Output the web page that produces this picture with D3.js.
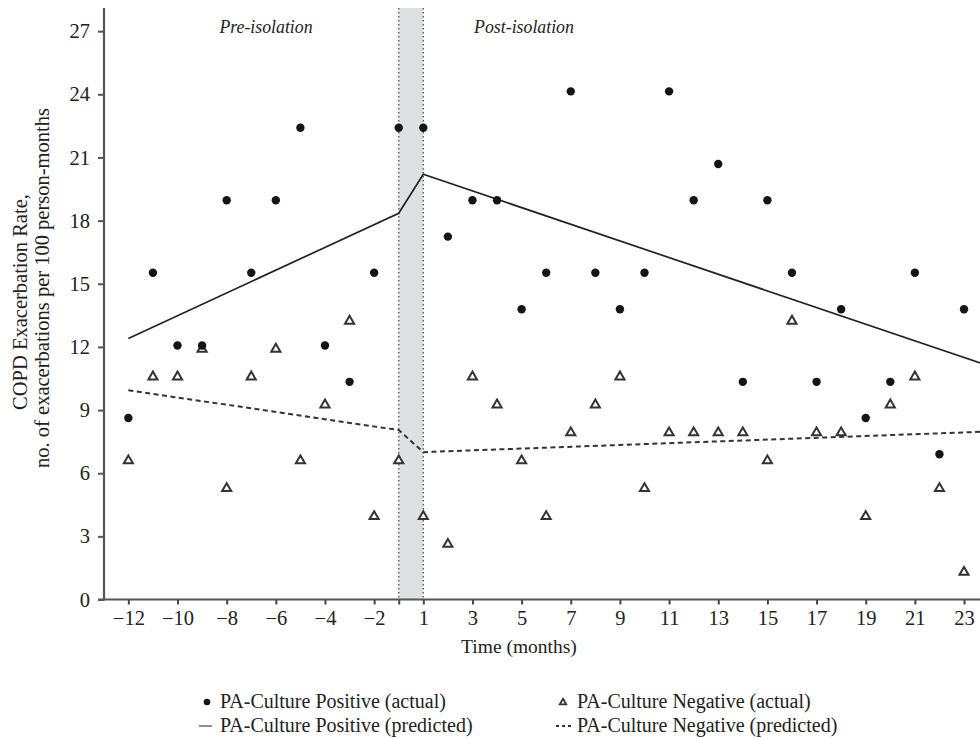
<!DOCTYPE html>
<html><head><meta charset="utf-8">
<script src="https://cdn.jsdelivr.net/npm/d3@7"></script>
<style>
html,body{margin:0;padding:0;background:#fff;}
svg{display:block;}
</style></head>
<body>
<svg id="chart" width="980" height="739"></svg>
<script>
// ---- data ----
const months = [-12,-11,-10,-9,-8,-7,-6,-5,-4,-3,-2,-1,1,2,3,4,5,6,7,8,9,10,11,12,13,14,15,16,17,18,19,20,21,22,23];
const positiveActual = [8.62,15.52,12.07,12.07,18.97,15.52,18.97,22.41,12.07,10.34,15.52,22.41,
  22.41,17.24,18.97,18.97,13.79,15.52,24.14,15.52,13.79,15.52,24.14,18.97,20.69,10.34,18.97,15.52,10.34,13.79,8.62,10.34,15.52,6.90,13.79];
const negativeActual = [6.62,10.60,10.60,11.92,5.30,10.60,11.92,6.62,9.27,13.25,3.97,6.62,
  3.97,2.65,10.60,9.27,6.62,3.97,7.95,9.27,10.60,5.30,7.95,7.95,7.95,7.95,6.62,13.25,7.95,7.95,3.97,9.27,10.60,5.30,1.32];
const predMonths = [-12,-1,1,24];
const positivePredicted = [12.4,18.35,20.2,11.1];
const negativePredicted = [9.94,8.05,7.0,7.98];
const xTickMonths = [-12,-10,-8,-6,-4,-2,-1,1,3,5,7,9,11,13,15,17,19,21,23];
const xTickLabels = ["\u221212","\u221210","\u22128","\u22126","\u22124","\u22122","","1","3","5","7","9","11","13","15","17","19","21","23"];
const yTicks = [0,3,6,9,12,15,18,21,24,27];
const periodLabels = ["Pre-isolation","Post-isolation"];
const legendLabels = ["PA-Culture Positive (actual)","PA-Culture Negative (actual)","PA-Culture Positive (predicted)","PA-Culture Negative (predicted)"];

const FONT = '"Liberation Serif", "DejaVu Serif", serif';
const TXT = "#222";

// month -> position index (month 0 does not exist)
const idx = m => m < 0 ? m + 12 : m + 11;

const svg = d3.select("#chart");
const x = d3.scaleLinear().domain([-1.235, 34.65]).range([98, 980]);
const y = d3.scaleLinear().domain([0, 28.1]).range([599.5, 8]);

function txt(sel, size) {
  return sel.style("font-family", FONT).style("font-size", size + "px").style("fill", TXT);
}

// shaded isolation band
const bx0 = x(idx(-1)), bx1 = x(idx(1));
svg.append("rect").attr("x", bx0).attr("y", y(28.1)).attr("width", bx1 - bx0)
  .attr("height", y(0) - y(28.1)).attr("fill", "#dfe0e2");
[bx0, bx1].forEach(bx => {
  svg.append("line").attr("x1", bx).attr("x2", bx).attr("y1", y(28.1)).attr("y2", y(0))
    .attr("stroke", "#666").attr("stroke-width", 1.5).attr("stroke-dasharray", "1.5,2.5");
});

// axes
const yAxis = d3.axisLeft(y).tickValues(yTicks).tickSize(6).tickPadding(8).tickSizeOuter(0);
const gy = svg.append("g").attr("transform", "translate(104,0)").call(yAxis);
gy.select(".domain").remove();
gy.selectAll(".tick line").attr("stroke", "#555").attr("stroke-width", 2);
txt(gy.selectAll(".tick text"), 20.5);
svg.append("line").attr("x1", 104).attr("x2", 104).attr("y1", y(28.1)).attr("y2", y(0) + 1)
  .attr("stroke", "#555").attr("stroke-width", 2.2);

const xAxis = d3.axisBottom(x).tickValues(xTickMonths.map(idx))
  .tickFormat((d, i) => xTickLabels[i]).tickSize(5).tickPadding(6).tickSizeOuter(0);
const gx = svg.append("g").attr("transform", `translate(0,${y(0)})`).call(xAxis);
gx.select(".domain").remove();
gx.selectAll(".tick line").attr("stroke", "#444").attr("stroke-width", 2);
txt(gx.selectAll(".tick text"), 20.5);
svg.append("line").attr("x1", 98).attr("x2", 980).attr("y1", y(0)).attr("y2", y(0))
  .attr("stroke", "#555").attr("stroke-width", 2.2);

// predicted lines
const line = d3.line().x(d => x(idx(d[0]))).y(d => y(d[1]));
svg.append("path").datum(predMonths.map((m, i) => [m, positivePredicted[i]]))
  .attr("d", line).attr("fill", "none").attr("stroke", "#222").attr("stroke-width", 1.7);
svg.append("path").datum(predMonths.map((m, i) => [m, negativePredicted[i]]))
  .attr("d", line).attr("fill", "none").attr("stroke", "#333").attr("stroke-width", 2)
  .attr("stroke-dasharray", "5,3.5");

// triangles (negative actual)
const tri = d3.symbol().type(d3.symbolTriangle).size(36);
svg.append("g").selectAll("path").data(months.map((m, i) => [m, negativeActual[i]])).join("path")
  .attr("d", tri).attr("transform", d => `translate(${x(idx(d[0]))},${y(d[1]) + 0.5})`)
  .attr("fill", "#fff").attr("stroke", "#333").attr("stroke-width", 2);

// circles (positive actual)
svg.append("g").selectAll("circle").data(months.map((m, i) => [m, positiveActual[i]])).join("circle")
  .attr("cx", d => x(idx(d[0]))).attr("cy", d => y(d[1])).attr("r", 4.2).attr("fill", "#151515");

// period labels
txt(svg.append("text").attr("x", 266).attr("y", 33).attr("text-anchor", "middle")
  .style("font-style", "italic").text(periodLabels[0]), 17.8);
txt(svg.append("text").attr("x", 524).attr("y", 33).attr("text-anchor", "middle")
  .style("font-style", "italic").text(periodLabels[1]), 17.8);

// axis titles
txt(svg.append("text").attr("x", 519).attr("y", 653).attr("text-anchor", "middle")
  .text("Time (months)"), 19.5);
txt(svg.append("text").attr("transform", "translate(27,302) rotate(-90)").attr("text-anchor", "middle")
  .text("COPD Exacerbation Rate,"), 20.5);
txt(svg.append("text").attr("transform", "translate(49,288) rotate(-90)").attr("text-anchor", "middle")
  .text("no. of exacerbations per 100 person-months"), 20.5);

// legend
const ly1 = 702, ly2 = 726;
svg.append("circle").attr("cx", 207).attr("cy", ly1).attr("r", 3.3).attr("fill", "#151515");
txt(svg.append("text").attr("x", 220).attr("y", ly1 + 6).text(legendLabels[0]), 20);
svg.append("path").attr("d", d3.symbol().type(d3.symbolTriangle).size(18)())
  .attr("transform", `translate(563,${ly1 + 0.5})`).attr("fill", "#fff").attr("stroke", "#333").attr("stroke-width", 1.8);
txt(svg.append("text").attr("x", 577).attr("y", ly1 + 6).text(legendLabels[1]), 20);
svg.append("line").attr("x1", 199).attr("x2", 212).attr("y1", ly2).attr("y2", ly2)
  .attr("stroke", "#444").attr("stroke-width", 1.2);
txt(svg.append("text").attr("x", 220).attr("y", ly2 + 6).text(legendLabels[2]), 20);
svg.append("line").attr("x1", 556).attr("x2", 573).attr("y1", ly2).attr("y2", ly2)
  .attr("stroke", "#333").attr("stroke-width", 1.8).attr("stroke-dasharray", "3,3");
txt(svg.append("text").attr("x", 577).attr("y", ly2 + 6).text(legendLabels[3]), 20);
</script>
</body></html>
